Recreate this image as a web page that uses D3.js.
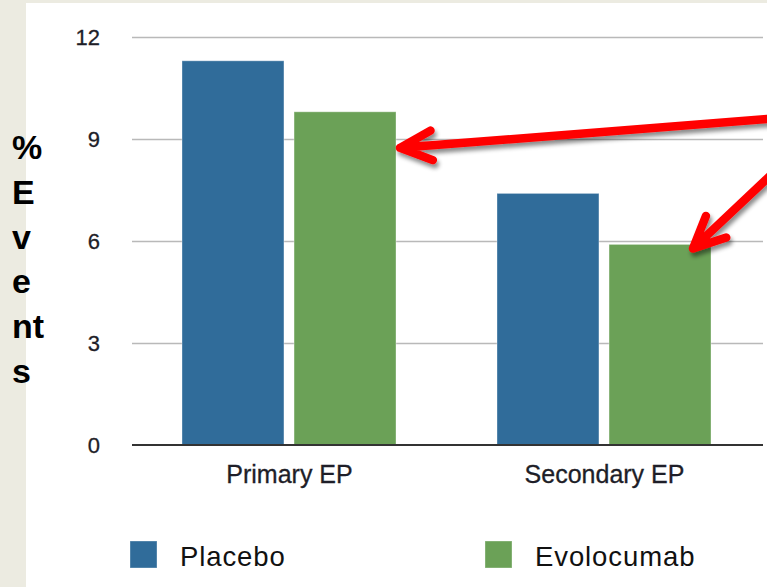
<!DOCTYPE html>
<html>
<head>
<meta charset="utf-8">
<script src="https://cdn.jsdelivr.net/npm/d3@7"></script>
<style>
  html, body { margin: 0; padding: 0; background: #ffffff; }
  svg { display: block; }
  text { font-family: "Liberation Sans", Arial, Helvetica, sans-serif; }
</style>
</head>
<body>
<svg id="chart" width="767" height="587"></svg>
<script>
// Event rates (%) by endpoint and treatment arm
const categories = ["Primary EP", "Secondary EP"];
const series = ["Placebo", "Evolocumab"];
const placeboValues = [11.3, 7.4];
const evolocumabValues = [9.8, 5.9];
const yTicks = [0, 3, 6, 9, 12];
const seriesColors = ["#306c9a", "#6ba157"];
const yLabelLines = ["%", "E", "v", "e", "nt", "s"];

// Callout arrows pointing at the Evolocumab bars (tail value, tip value)
const arrowNotes = [
  { category: "Primary EP", tailValue: 9.6, tipValue: 8.74, tipAt: "right" },
  { category: "Secondary EP", tailValue: 8.0, tipValue: 5.78, tipAt: "inside" }
];

const W = 767, H = 587;
const svg = d3.select("#chart");

// page backdrop strips
svg.append("rect").attr("x", 0).attr("y", 0).attr("width", W).attr("height", H).attr("fill", "#ffffff");
svg.append("rect").attr("x", 0).attr("y", 0).attr("width", 26).attr("height", H).attr("fill", "#ecebe1");
svg.append("rect").attr("x", 0).attr("y", 0).attr("width", W).attr("height", 3).attr("fill", "#ecebe1");

const plotLeft = 132, plotRight = 762, plotTop = 37, plotBottom = 445;

const y = d3.scaleLinear().domain([0, 12]).range([plotBottom, plotTop]);
const x0 = d3.scaleBand().domain(categories).range([plotLeft, plotRight]).padding(0);
const x1 = d3.scaleBand().domain(series).range([50, 264]).paddingInner(0.09).paddingOuter(0);

const rows = categories.map((c, i) => ({
  category: c,
  values: [placeboValues[i], evolocumabValues[i]]
}));

// gridlines
const grid = svg.append("g")
  .attr("transform", `translate(${plotLeft},0)`)
  .call(d3.axisLeft(y).tickValues(yTicks.filter(t => t > 0)).tickSize(-(plotRight - plotLeft + 1)).tickFormat(""));
grid.select(".domain").remove();
grid.selectAll(".tick line").attr("stroke", "#b9b9b9").attr("stroke-width", 1.6);

// y tick labels
const yAxis = svg.append("g")
  .attr("transform", `translate(${plotLeft},0)`)
  .call(d3.axisLeft(y).tickValues(yTicks).tickSize(0).tickPadding(32).tickFormat(d3.format("d")));
yAxis.select(".domain").remove();
yAxis.selectAll("text")
  .attr("font-size", 22)
  .attr("fill", "#1e1e28")
  .attr("stroke", "#1e1e28")
  .attr("stroke-width", 0.3)
  .attr("font-family", "'Liberation Sans', Arial, sans-serif");

// bars
const groups = svg.append("g").selectAll("g")
  .data(rows)
  .join("g")
  .attr("transform", d => `translate(${x0(d.category)},0)`);

groups.selectAll("rect")
  .data(d => d.values.map((v, i) => ({ key: series[i], value: v, idx: i })))
  .join("rect")
  .attr("x", d => x1(d.key))
  .attr("y", d => y(d.value))
  .attr("width", x1.bandwidth())
  .attr("height", d => y(0) - y(d.value))
  .attr("fill", d => seriesColors[d.idx])
  .attr("stroke", "rgba(255,255,255,0.35)")
  .attr("stroke-width", 1);

// baseline and category labels
const xAxis = svg.append("g")
  .attr("transform", `translate(0,${plotBottom})`)
  .call(d3.axisBottom(x0).tickSize(0).tickPadding(20));
xAxis.select(".domain").attr("stroke", "#333333").attr("stroke-width", 2)
  .attr("d", `M${plotLeft},0H${plotRight + 1}`);
xAxis.selectAll("text")
  .attr("font-size", 25)
  .attr("fill", "#1e1e28")
  .attr("stroke", "#1e1e28")
  .attr("stroke-width", 0.3)
  .attr("font-family", "'Liberation Sans', Arial, sans-serif");

// vertical stacked y label
const yLabel = svg.append("g");
yLabel.selectAll("text")
  .data(yLabelLines)
  .join("text")
  .attr("x", 12)
  .attr("y", (d, i) => 159 + i * 44.8)
  .attr("font-size", 34)
  .attr("font-weight", "bold")
  .attr("fill", "#000000")
  .text(d => d);

// legend
const legendX = [130, 485];
const legend = svg.append("g").selectAll("g")
  .data(series)
  .join("g")
  .attr("transform", (d, i) => `translate(${legendX[i]},541)`);
legend.append("rect")
  .attr("width", 27).attr("height", 27)
  .attr("fill", (d, i) => seriesColors[i])
  .attr("stroke", "rgba(255,255,255,0.35)");
legend.append("text")
  .attr("x", 50).attr("y", 25)
  .attr("font-size", 27.5)
  .attr("letter-spacing", 0.9)
  .attr("fill", "#111111")
  .text(d => d);

// red callout arrows with a soft shadow
const defs = svg.append("defs");
const f = defs.append("filter").attr("id", "arrowShadow")
  .attr("x", "-20%").attr("y", "-20%").attr("width", "140%").attr("height", "160%");
f.append("feDropShadow").attr("dx", 2).attr("dy", 4).attr("stdDeviation", 2.2)
  .attr("flood-color", "#000").attr("flood-opacity", 0.45);

const line = d3.line();
const arrowLayer = svg.append("g").attr("filter", "url(#arrowShadow)");
arrowNotes.forEach(n => {
  const barX = x0(n.category) + x1("Evolocumab");
  const tip = n.tipAt === "right"
    ? [barX + x1.bandwidth() + 4, y(n.tipValue)]
    : [barX + x1.bandwidth() - 18, y(n.tipValue)];
  const tail = [W + 6, y(n.tailValue)];
  const ang = Math.atan2(tail[1] - tip[1], tail[0] - tip[0]);
  const len = 35, spread = 25 * Math.PI / 180;
  const b1 = [tip[0] + len * Math.cos(ang - spread), tip[1] + len * Math.sin(ang - spread)];
  const b2 = [tip[0] + len * Math.cos(ang + spread), tip[1] + len * Math.sin(ang + spread)];
  arrowLayer.append("path")
    .attr("d", line([tail, tip]) + line([b1, tip, b2]))
    .attr("fill", "none")
    .attr("stroke", "#ff0000")
    .attr("stroke-width", 8.5)
    .attr("stroke-linecap", "round")
    .attr("stroke-linejoin", "round");
});
</script>
</body>
</html>
